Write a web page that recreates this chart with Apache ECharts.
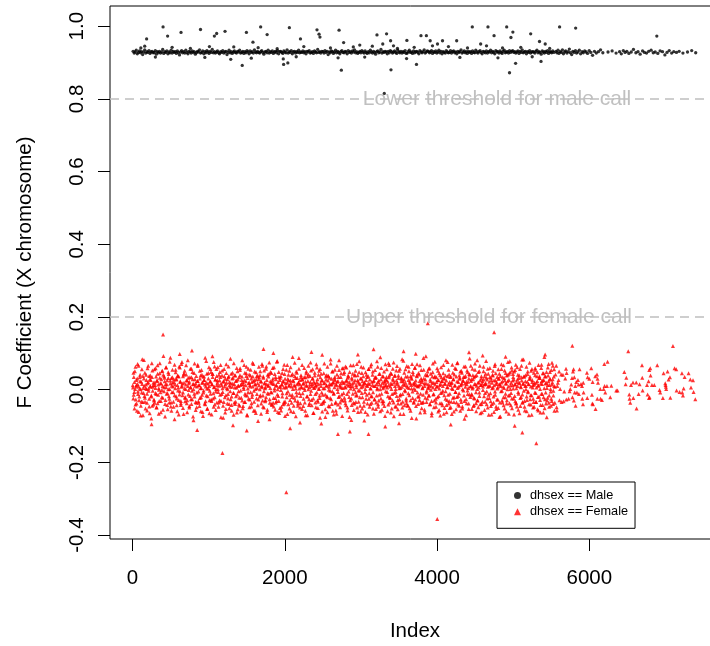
<!DOCTYPE html>
<html><head><meta charset="utf-8">
<script src="https://cdn.jsdelivr.net/npm/echarts@6/dist/echarts.min.js"></script>
<style>html,body{margin:0;padding:0;background:#fff}#c{width:710px;height:646px}</style>
</head><body><div id="c"></div><script>
const FONT = 'Liberation Sans, Arial, Helvetica, sans-serif';
const xTicks = [0, 2000, 4000, 6000];
const yTicks = [-0.4, -0.2, 0, 0.2, 0.4, 0.6, 0.8, 1.0];
const thresholds = [0.8, 0.2];
const thresholdLabels = ['Lower threshold for male call', 'Upper threshold for female call'];
const thresholdLabelIdx = [4788, 4683];
const legendNames = ['dhsex == Male', 'dhsex == Female'];

const maleIdx = [
8,22,35,49,63,77,91,105,119,133,146,160,174,188,202,216,230,243,257,271,
285,299,312,326,340,354,368,382,396,410,423,437,451,465,479,493,507,520,534,548,
562,576,589,603,617,631,645,659,673,687,700,714,728,742,756,770,784,797,811,825,
839,853,866,880,894,908,922,936,950,964,977,991,1005,1019,1033,1047,1061,1074,1088,1102,
1116,1130,1143,1157,1171,1185,1199,1213,1227,1241,1254,1268,1282,1296,1310,1324,1338,1351,1365,1379,
1393,1407,1420,1434,1448,1462,1476,1490,1504,1518,1531,1545,1559,1573,1587,1601,1615,1628,1642,1656,
1670,1684,1697,1711,1725,1739,1753,1767,1781,1795,1808,1822,1836,1850,1864,1878,1892,1905,1919,1933,
1947,1961,1974,1988,2002,2016,2030,2044,2058,2072,2085,2099,2113,2127,2141,2155,2169,2182,2196,2210,
2224,2238,2251,2265,2279,2293,2307,2321,2335,2349,2362,2376,2390,2404,2418,2432,2446,2459,2473,2487,
2501,2515,2528,2542,2556,2570,2584,2598,2612,2626,2639,2653,2667,2681,2695,2709,2723,2736,2750,2764,
2778,2792,2805,2819,2833,2847,2861,2875,2889,2903,2916,2930,2944,2958,2972,2986,3000,3013,3027,3041,
3055,3069,3082,3096,3110,3124,3138,3152,3166,3180,3193,3207,3221,3235,3249,3263,3277,3290,3304,3318,
3332,3346,3359,3373,3387,3401,3415,3429,3443,3457,3470,3484,3498,3512,3526,3540,3554,3567,3581,3595,
3609,3623,3636,3650,3664,3678,3692,3706,3720,3734,3747,3761,3775,3789,3803,3817,3831,3844,3858,3872,
3886,3900,3913,3927,3941,3955,3969,3983,3997,4011,4024,4038,4052,4066,4080,4094,4108,4121,4135,4149,
4163,4177,4190,4204,4218,4232,4246,4260,4274,4288,4301,4315,4329,4343,4357,4371,4385,4398,4412,4426,
4440,4454,4467,4481,4495,4509,4523,4537,4551,4565,4578,4592,4606,4620,4634,4648,4662,4675,4689,4703,
4717,4731,4744,4758,4772,4786,4800,4814,4828,4842,4855,4869,4883,4897,4911,4925,4939,4952,4966,4980,
4994,5008,5021,5035,5049,5063,5077,5091,5105,5119,5132,5146,5160,5174,5188,5202,5216,5229,5243,5257,
5271,5285,5298,5312,5326,5340,5354,5368,5382,5396,5409,5423,5437,5451,5465,5479,5493,5506,5520,5534];
const maleF = [
.931,.926,.929,.934,.924,.928,.932,.927,.930,.922,.929,.935,.926,.930,.928,.933,.925,.929,.931,.927,
.928,.933,.923,.930,.927,.931,.926,.929,.936,.925,.930,.928,.932,.924,.929,.927,.934,.926,.931,.928,
.930,.925,.932,.928,.921,.929,.933,.927,.930,.926,.934,.928,.924,.931,.929,.926,.932,.928,.930,.923,
.927,.931,.929,.935,.926,.928,.932,.924,.930,.927,.933,.929,.925,.931,.928,.936,.927,.930,.926,.929,
.932,.927,.924,.930,.928,.933,.926,.929,.931,.922,.928,.934,.927,.930,.925,.929,.932,.928,.926,.931,
.929,.934,.926,.928,.931,.925,.930,.927,.933,.929,.924,.932,.928,.930,.926,.935,.929,.927,.931,.928,
.926,.930,.933,.928,.923,.929,.931,.927,.934,.926,.930,.928,.932,.925,.929,.931,.927,.933,.924,.930,
.931,.928,.925,.932,.929,.927,.935,.926,.930,.928,.933,.924,.929,.931,.926,.930,.928,.934,.927,.929,
.928,.932,.927,.930,.924,.931,.929,.933,.926,.928,.930,.925,.932,.929,.927,.936,.928,.930,.926,.931,
.930,.926,.933,.928,.931,.922,.929,.927,.932,.930,.925,.929,.934,.927,.931,.928,.924,.930,.933,.928,
.927,.931,.929,.924,.933,.928,.930,.926,.932,.929,.935,.927,.930,.925,.928,.931,.927,.933,.929,.926,
.932,.928,.925,.930,.927,.934,.929,.926,.931,.928,.923,.930,.932,.927,.929,.936,.926,.930,.928,.931,
.929,.924,.931,.927,.933,.930,.926,.929,.932,.928,.925,.934,.929,.927,.931,.926,.930,.928,.933,.925,
.926,.930,.934,.928,.929,.925,.932,.927,.930,.931,.928,.924,.933,.929,.927,.930,.935,.926,.929,.932,
.931,.927,.929,.933,.925,.930,.928,.932,.926,.929,.934,.927,.931,.924,.930,.928,.926,.933,.929,.927,
.928,.933,.926,.930,.932,.927,.929,.924,.931,.928,.930,.935,.926,.929,.932,.927,.930,.925,.931,.928,
.930,.925,.932,.928,.927,.934,.929,.926,.930,.933,.928,.924,.931,.929,.927,.932,.926,.930,.929,.934,
.927,.931,.928,.924,.933,.929,.930,.926,.932,.928,.925,.931,.934,.927,.929,.930,.926,.933,.928,.931,
.933,.928,.930,.926,.929,.932,.925,.931,.928,.935,.927,.929,.931,.924,.930,.928,.933,.926,.929,.930,
.929,.926,.931,.934,.927,.930,.928,.923,.932,.929,.926,.931,.928,.933,.925,.930,.929,.927,.932,.928];

const maleSparseIdx = [5562,5575,5589,5601,5618,5633,5647,5660,5676,5690,5707,5722,5738,5751,5769,5784,5800,5818,5833,5851,5869,5886,5905,5921,5940,5958,5977,5999,6020,6043,6068,6092,6120,6148,6178,
6246,6300,6352,6398,6421,6447,6470,6493,6520,6551,6580,6612,6640,6668,6700,6725,6752,6780,6812,6840,6866,6900,6930,6962,6993,7021,7050,7082,7110,7145,7180,7230,7290,7345,7398];
const maleSparseF = [.931,.927,.934,.925,.930,.928,.935,.924,.929,.932,.926,.930,.937,.927,.922,.931,.928,.933,.926,.929,.934,.924,.930,.927,.932,.929,.925,.933,.928,.920,.931,.926,.930,.935,.927,
.929,.932,.926,.930,.924,.933,.928,.931,.925,.929,.936,.927,.930,.923,.932,.928,.926,.931,.934,.927,.929,.925,.932,.930,.921,.928,.933,.926,.930,.928,.931,.926,.929,.933,.927];

const maleOutIdx = [109,185,401,461,637,893,1075,1105,1215,1496,1582,1683,1768,2060,2206,2423,2450,2462,2713,2773,2985,3211,3287,3337,3390,3428,3604,3789,3860,3910,3940,4006,4072,4258,4463,4573,4669,4749,4860,4915,4971,4996,5230,5346,5421,5610,5821,6887,
1290,1441,1980,1985,2040,2743,3395,3730,4952,5032,5366,3307,
160,520,760,1010,1330,1650,1900,2250,2600,2900,3150,3480,3700,4150,4400,4650,5100,5480,300,950,1560,2150,2700,3050,3600,4300,4800,5250];
const maleOutF = [.940,.965,.998,.973,.983,.991,.973,.980,.986,.983,.956,.998,.977,.996,.965,.990,.978,.970,.989,.955,.948,.976,.951,.979,.960,.946,.961,.974,.974,.960,.946,.951,.960,.960,.998,.951,.998,.974,.940,.998,.969,.984,.979,.958,.951,.998,.995,.973,
.909,.892,.910,.895,.899,.879,.880,.895,.872,.898,.903,.815,
.945,.942,.939,.944,.943,.941,.938,.944,.940,.943,.945,.939,.942,.944,.940,.946,.942,.939,.915,.914,.912,.916,.913,.915,.911,.914,.913,.916];

const femaleIdx = [
3,10,17,23,31,38,45,51,58,66,72,79,86,94,100,107,114,120,128,135,
142,149,156,162,170,177,184,190,197,205,211,218,225,233,239,246,253,259,267,274,
281,288,295,301,309,316,323,329,336,344,350,357,364,372,378,385,392,398,406,413,
420,427,434,440,448,455,462,468,475,483,489,496,503,511,517,524,531,537,545,552,
559,566,573,579,587,594,601,607,614,622,628,635,642,650,656,663,670,676,684,691,
698,705,712,718,726,733,740,746,753,761,767,774,781,789,795,802,809,815,823,830,
837,844,851,857,865,872,879,885,892,900,906,913,920,928,934,941,948,954,962,969,
976,983,990,996,1004,1011,1018,1024,1031,1039,1045,1052,1059,1067,1073,1080,1087,1093,1101,1108,
1115,1122,1129,1135,1143,1150,1157,1163,1170,1178,1184,1191,1198,1206,1212,1219,1226,1232,1240,1247,
1254,1261,1268,1274,1282,1289,1296,1302,1309,1317,1323,1330,1337,1345,1351,1358,1365,1371,1379,1386,
1393,1400,1407,1413,1421,1428,1435,1441,1448,1456,1462,1469,1476,1484,1490,1497,1504,1510,1518,1525,
1532,1539,1546,1552,1560,1567,1574,1580,1587,1595,1601,1608,1615,1623,1629,1636,1643,1649,1657,1664,
1671,1678,1685,1691,1699,1706,1713,1719,1726,1734,1740,1747,1754,1762,1768,1775,1782,1788,1796,1803,
1810,1817,1824,1830,1838,1845,1852,1858,1865,1873,1879,1886,1893,1901,1907,1914,1921,1927,1935,1942,
1949,1956,1963,1969,1977,1984,1991,1997,2004,2012,2018,2025,2032,2040,2046,2053,2060,2066,2074,2081,
2088,2095,2102,2108,2116,2123,2130,2136,2143,2151,2157,2164,2171,2179,2185,2192,2199,2205,2213,2220,
2227,2234,2241,2247,2255,2262,2269,2275,2282,2290,2296,2303,2310,2318,2324,2331,2338,2344,2352,2359,
2366,2373,2380,2386,2394,2401,2408,2414,2421,2429,2435,2442,2449,2457,2463,2470,2477,2483,2491,2498,
2505,2512,2519,2525,2533,2540,2547,2553,2560,2568,2574,2581,2588,2596,2602,2609,2616,2622,2630,2637,
2644,2651,2658,2664,2672,2679,2686,2692,2699,2707,2713,2720,2727,2735,2741,2748,2755,2761,2769,2776,
2783,2790,2797,2803,2811,2818,2825,2831,2838,2846,2852,2859,2866,2874,2880,2887,2894,2900,2908,2915,
2922,2929,2936,2942,2950,2957,2964,2970,2977,2985,2991,2998,3005,3013,3019,3026,3033,3039,3047,3054,
3061,3068,3075,3081,3089,3096,3103,3109,3116,3124,3130,3137,3144,3152,3158,3165,3172,3178,3186,3193,
3200,3207,3214,3220,3228,3235,3242,3248,3255,3263,3269,3276,3283,3291,3297,3304,3311,3317,3325,3332,
3339,3346,3353,3359,3367,3374,3381,3387,3394,3402,3408,3415,3422,3430,3436,3443,3450,3456,3464,3471,
3478,3485,3492,3498,3506,3513,3520,3526,3533,3541,3547,3554,3561,3569,3575,3582,3589,3595,3603,3610,
3617,3624,3631,3637,3645,3652,3659,3665,3672,3680,3686,3693,3700,3708,3714,3721,3728,3734,3742,3749,
3756,3763,3770,3776,3784,3791,3798,3804,3811,3819,3825,3832,3839,3847,3853,3860,3867,3873,3881,3888,
3895,3902,3909,3915,3923,3930,3937,3943,3950,3958,3964,3971,3978,3986,3992,3999,4006,4012,4020,4027,
4034,4041,4048,4054,4062,4069,4076,4082,4089,4097,4103,4110,4117,4125,4131,4138,4145,4151,4159,4166,
4173,4180,4187,4193,4201,4208,4215,4221,4228,4236,4242,4249,4256,4264,4270,4277,4284,4290,4298,4305,
4312,4319,4326,4332,4340,4347,4354,4360,4367,4375,4381,4388,4395,4403,4409,4416,4423,4429,4437,4444,
4451,4458,4465,4471,4479,4486,4493,4499,4506,4514,4520,4527,4534,4542,4548,4555,4562,4568,4576,4583,
4590,4597,4604,4610,4618,4625,4632,4638,4645,4653,4659,4666,4673,4681,4687,4694,4701,4707,4715,4722,
4729,4736,4743,4749,4757,4764,4771,4777,4784,4792,4798,4805,4812,4820,4826,4833,4840,4846,4854,4861,
4868,4875,4882,4888,4896,4903,4910,4916,4923,4931,4937,4944,4951,4959,4965,4972,4979,4985,4993,5000,
5007,5014,5021,5027,5035,5042,5049,5055,5062,5070,5076,5083,5090,5098,5104,5111,5118,5124,5132,5139,
5146,5153,5160,5166,5174,5181,5188,5194,5201,5209,5215,5222,5229,5237,5243,5250,5257,5263,5271,5278,
5285,5292,5299,5305,5313,5320,5327,5333,5340,5348,5354,5361,5368,5376,5382,5389,5396,5402,5410,5417,
5424,5431,5438,5444,5452,5459,5466,5472,5479,5487,5493,5500,5507,5515,5521,5528,5535,5541,5549,5556];
const femaleF = [
.012,-.024,.035,-.006,.051,-.041,.009,.027,-.058,.016,-.012,.066,-.029,.003,.041,-.071,.022,-.008,.084,-.034,
.005,.031,-.017,.047,-.052,.014,.002,-.036,.059,.021,-.003,.038,-.065,.011,.027,-.019,.073,-.044,.008,.019,
-.027,.056,.013,-.009,.036,-.048,.024,.067,-.014,.004,-.031,.045,.018,-.062,.029,-.001,.052,-.022,.093,.007,
.033,-.039,.015,.061,-.011,.026,-.054,.001,.043,-.025,.077,.017,-.046,.032,-.007,.055,.009,-.033,.021,-.081,
.014,.048,-.018,.028,-.059,.039,.006,-.028,.064,-.004,.023,-.042,.071,.011,-.015,.037,-.067,.019,.052,-.023,
.002,.042,-.037,.025,.081,-.013,.018,-.049,.034,.007,-.026,.058,-.003,.029,-.074,.016,.046,-.019,.011,-.056,
.038,-.008,.024,.069,-.032,.013,-.045,.031,.004,-.021,.054,.019,-.061,.036,-.002,.027,-.038,.088,.009,-.016,
.044,-.052,.017,.003,.062,-.029,.022,-.011,.049,-.068,.014,.035,-.024,.076,.008,-.041,.028,-.005,.057,-.035,
.019,.001,-.047,.041,.026,-.014,.068,-.031,.012,.053,-.006,-.077,.024,.037,-.021,.015,-.053,.046,.005,.029,
-.012,.064,-.039,.021,.008,-.026,.044,-.058,.031,.017,-.009,.073,-.035,.006,.039,-.018,.025,-.063,.051,.011,
-.004,.034,-.044,.059,.013,-.022,.027,.081,-.051,.016,.002,-.034,.047,-.015,.023,.063,-.069,.032,-.007,.018,
.042,-.027,.009,.055,-.046,.021,-.013,.036,.071,-.003,.026,-.057,.014,.048,-.024,.005,.039,-.086,.029,.012,
-.019,.051,.024,-.038,.007,.066,-.016,.033,-.049,.019,.004,-.028,.058,.015,-.061,.041,.010,-.011,.075,-.036,
.023,-.006,.046,-.042,.017,.031,-.023,.062,-.002,-.055,.035,.013,-.031,.079,.001,-.017,.049,-.064,.027,.008,
.037,-.047,.014,-.010,.057,.022,-.033,.043,-.072,.018,.006,-.021,.068,.030,-.040,.011,.052,-.014,.025,-.059,
.009,-.020,.043,.026,-.061,.012,.074,-.030,.003,.050,-.016,.032,-.044,.020,.087,-.009,.015,-.037,.040,.006,
-.053,.028,.017,-.025,.060,-.001,.034,-.070,.045,.010,-.019,.024,.066,-.042,.007,.038,-.012,.053,-.028,.016,
.031,-.064,.022,.005,.047,-.035,.013,.070,-.008,.029,-.050,.041,.002,-.023,.057,.018,-.039,.026,.096,-.014,
.004,.045,-.031,.019,-.075,.036,.011,-.017,.063,.025,-.045,.008,.033,-.003,.072,-.026,.015,.050,-.058,.021,
-.010,.030,.055,-.037,.016,-.066,.042,.002,.024,-.020,.081,.012,-.048,.035,.006,-.013,.059,-.030,.019,.044,
-.022,.008,.064,-.043,.027,.014,-.057,.039,-.005,.021,.049,-.029,.010,-.083,.033,.017,-.011,.067,.001,-.038,
.026,.052,-.016,.007,-.049,.040,.022,-.033,.078,-.002,.015,-.060,.031,.046,-.021,.009,.061,-.044,.020,-.007,
.048,-.025,.012,.035,-.068,.018,.057,-.010,.028,-.039,.003,.070,-.018,.041,-.052,.023,.010,-.027,.054,.032,
-.035,.016,.001,.063,-.047,.025,-.014,.044,.089,-.024,.011,-.055,.037,.004,-.032,.050,.019,-.072,.029,.013,
.056,-.006,.022,-.041,.034,.068,-.020,.009,-.063,.043,.016,-.029,.026,.075,-.009,.038,-.046,.002,.053,-.017,
.020,-.054,.039,.011,-.026,.058,.005,-.038,.030,.084,-.012,.024,-.067,.047,.013,-.004,.036,-.030,.065,.007,
-.043,.027,.051,-.015,.018,-.058,.033,.003,.071,-.023,.042,-.036,.014,.060,-.001,.025,-.079,.039,.010,-.019,
.046,.012,-.028,.067,-.011,.031,-.051,.021,.006,-.034,.055,.017,-.062,.028,.092,-.008,.040,-.024,.015,.004,
-.016,.059,-.040,.023,.011,-.071,.036,.048,-.013,.019,-.030,.077,.002,-.047,.034,.009,-.021,.052,.026,-.056,
.013,.040,-.009,.062,-.037,.024,-.003,.045,-.066,.030,.016,-.025,.081,-.042,.007,.037,-.014,.055,-.031,.021,
.035,-.048,.018,.004,.069,-.022,.029,-.060,.042,.012,-.006,.057,-.035,.023,.074,-.017,.008,-.044,.033,.050,
-.027,.014,.047,-.052,.026,-.002,.064,-.031,.017,.038,-.070,.022,.053,-.012,.005,-.038,.043,.086,-.020,.010,
.029,-.015,.058,.007,-.045,.034,-.024,.072,.015,-.059,.040,.002,-.029,.049,.020,-.008,.066,-.040,.013,.031,
-.062,.024,.009,.051,-.018,.037,-.033,.016,.079,-.005,.028,-.049,.044,.011,-.023,.060,-.010,.033,-.068,.019,
.041,.006,-.036,.026,.065,-.014,.045,-.053,.020,.003,-.027,.056,.031,-.075,.014,.038,-.004,.070,-.030,.023,
.008,-.043,.032,.053,-.021,.017,-.060,.039,.001,.076,-.016,.027,-.037,.048,.012,-.009,.061,-.051,.025,.035,
-.024,.050,.015,-.032,.069,.004,-.046,.028,.041,-.011,.020,-.065,.057,.009,-.020,.034,.083,-.036,.018,-.003,
.036,-.057,.023,.010,.063,-.028,.043,-.007,.016,-.040,.074,.030,-.015,.052,-.069,.021,.006,-.025,.047,.014,
-.008,.055,-.034,.019,.037,-.054,.011,.068,-.019,.032,.002,-.042,.060,.024,-.012,.045,-.063,.027,.090,-.026,
.017,-.038,.049,.005,-.022,.039,.071,-.047,.013,.028,-.005,.054,-.031,.020,.066,-.016,.036,-.058,.008,.042];

const femaleIdxB = [
6,15,25,34,43,52,62,71,80,89,99,108,117,126,136,145,154,163,173,182,
191,200,210,219,228,237,247,256,265,274,284,293,302,311,321,330,339,348,358,367,
376,385,395,404,413,422,432,441,450,459,469,478,487,496,506,515,524,533,543,552,
561,570,580,589,598,607,617,626,635,644,654,663,672,681,691,700,709,718,728,737,
746,755,765,774,783,792,802,811,820,829,839,848,857,866,876,885,894,903,913,922,
931,940,950,959,968,977,987,996,1005,1014,1024,1033,1042,1051,1061,1070,1079,1088,1098,1107,
1116,1125,1135,1144,1153,1162,1172,1181,1190,1199,1209,1218,1227,1236,1246,1255,1264,1273,1283,1292,
1301,1310,1320,1329,1338,1347,1357,1366,1375,1384,1394,1403,1412,1421,1431,1440,1449,1458,1468,1477,
1486,1495,1505,1514,1523,1532,1542,1551,1560,1569,1579,1588,1597,1606,1616,1625,1634,1643,1653,1662,
1671,1680,1690,1699,1708,1717,1727,1736,1745,1754,1764,1773,1782,1791,1801,1810,1819,1828,1838,1847,
1856,1865,1875,1884,1893,1902,1912,1921,1930,1939,1949,1958,1967,1976,1986,1995,2004,2013,2023,2032,
2041,2050,2060,2069,2078,2087,2097,2106,2115,2124,2134,2143,2152,2161,2171,2180,2189,2198,2208,2217,
2226,2235,2245,2254,2263,2272,2282,2291,2300,2309,2319,2328,2337,2346,2356,2365,2374,2383,2393,2402,
2411,2420,2430,2439,2448,2457,2467,2476,2485,2494,2504,2513,2522,2531,2541,2550,2559,2568,2578,2587,
2596,2605,2615,2624,2633,2642,2652,2661,2670,2679,2689,2698,2707,2716,2726,2735,2744,2753,2763,2772,
2781,2790,2800,2809,2818,2827,2837,2846,2855,2864,2874,2883,2892,2901,2911,2920,2929,2938,2948,2957,
2966,2975,2985,2994,3003,3012,3022,3031,3040,3049,3059,3068,3077,3086,3096,3105,3114,3123,3133,3142,
3151,3160,3170,3179,3188,3197,3207,3216,3225,3234,3244,3253,3262,3271,3281,3290,3299,3308,3318,3327,
3336,3345,3355,3364,3373,3382,3392,3401,3410,3419,3429,3438,3447,3456,3466,3475,3484,3493,3503,3512,
3521,3530,3540,3549,3558,3567,3577,3586,3595,3604,3614,3623,3632,3641,3651,3660,3669,3678,3688,3697,
3706,3715,3725,3734,3743,3752,3762,3771,3780,3789,3799,3808,3817,3826,3836,3845,3854,3863,3873,3882,
3891,3900,3910,3919,3928,3937,3947,3956,3965,3974,3984,3993,4002,4011,4021,4030,4039,4048,4058,4067,
4076,4085,4095,4104,4113,4122,4132,4141,4150,4159,4169,4178,4187,4196,4206,4215,4224,4233,4243,4252,
4261,4270,4280,4289,4298,4307,4317,4326,4335,4344,4354,4363,4372,4381,4391,4400,4409,4418,4428,4437,
4446,4455,4465,4474,4483,4492,4502,4511,4520,4529,4539,4548,4557,4566,4576,4585,4594,4603,4613,4622,
4631,4640,4650,4659,4668,4677,4687,4696,4705,4714,4724,4733,4742,4751,4761,4770,4779,4788,4798,4807,
4816,4825,4835,4844,4853,4862,4872,4881,4890,4899,4909,4918,4927,4936,4946,4955,4964,4973,4983,4992,
5001,5010,5020,5029,5038,5047,5057,5066,5075,5084,5094,5103,5112,5121,5131,5140,5149,5158,5168,5177,
5186,5195,5205,5214,5223,5232,5242,5251,5260,5269,5279,5288,5297,5306,5316,5325,5334,5343,5353,5362,
5371,5380,5390,5399,5408,5417,5427,5436,5445,5454,5464,5473,5482,5491,5501,5510,5519,5528,5538,5547];
const femaleFB = [
.006,-.014,.021,.002,-.027,.013,.031,-.005,.009,-.019,.024,.001,-.033,.016,.038,-.009,.011,-.022,.004,.027,
-.011,.018,.003,-.025,.029,.008,-.016,.035,-.003,.012,-.030,.020,.005,-.012,.026,-.037,.014,.000,.033,-.007,
.017,-.021,.010,.041,-.004,.023,-.028,.007,.015,-.010,.032,-.018,.002,.025,-.035,.011,.019,-.006,.028,-.015,
.004,.030,-.024,.013,-.002,.036,-.013,.021,-.031,.008,.017,-.008,.042,.003,-.020,.014,.026,-.029,.010,-.001,
.022,-.017,.006,.034,-.026,.015,.001,-.011,.029,.018,-.036,.009,.024,-.005,.012,-.023,.039,.005,-.014,.020,
-.008,.027,.014,-.032,.019,.003,-.018,.031,.010,-.003,.023,-.027,.016,.044,-.010,.007,-.021,.028,.002,.013,
.025,-.006,.011,-.029,.035,.017,-.012,.004,.022,-.034,.009,.030,-.015,.019,.001,-.024,.037,.012,-.004,.018,
-.019,.008,.033,-.009,.015,-.039,.024,.006,-.013,.028,.011,-.022,.040,-.002,.016,-.030,.021,.007,.026,-.011,
.012,.038,-.016,.003,-.025,.020,.013,-.007,.031,-.020,.009,.024,-.033,.015,.002,.029,-.012,.018,-.027,.034,
.001,-.015,.022,.010,-.030,.036,-.004,.017,.007,-.021,.027,-.010,.013,.043,-.026,.005,.019,-.008,.025,-.036,
.016,.004,-.023,.029,.011,-.013,.021,-.031,.008,.033,-.001,.014,-.019,.024,.006,-.038,.030,.009,-.010,.020,
-.005,.026,.012,-.028,.018,.040,-.014,.002,.023,-.022,.011,.032,-.007,.015,-.032,.019,.003,.027,-.017,.008,
.029,-.010,.017,.005,-.035,.022,.013,-.018,.036,.001,-.026,.014,.021,-.003,.010,.031,-.024,.006,.018,-.012,
.009,.021,-.029,.015,.003,-.016,.034,.010,-.008,.025,-.037,.018,.004,-.013,.028,.012,-.021,.039,.000,.016,
-.023,.014,.030,-.004,.019,-.011,.007,.026,-.034,.012,.022,-.006,.035,-.018,.008,.017,-.027,.023,.005,-.009,
.019,-.030,.006,.024,-.012,.033,.011,-.020,.015,.003,-.024,.028,.009,-.036,.020,.041,-.007,.013,-.015,.026,
-.002,.017,-.021,.031,.007,-.009,.023,.014,-.033,.018,.002,.027,-.014,.010,.037,-.025,.016,.004,-.018,.022,
.013,-.007,.025,-.026,.010,.035,-.016,.005,.021,-.030,.014,.001,.029,-.011,.019,-.038,.008,.024,.011,-.004,
.027,.006,-.018,.012,.039,-.023,.017,.002,-.012,.030,-.035,.020,.010,-.006,.025,.015,-.028,.032,.004,-.016,
-.013,.023,.008,-.033,.016,.028,-.001,.019,-.024,.011,.036,-.010,.005,.022,-.029,.013,.030,-.005,.017,.003,
.020,-.027,.013,.037,-.008,.009,-.019,.024,.015,-.036,.027,.004,-.014,.031,.010,-.022,.018,-.003,.040,.007,
-.016,.011,.028,.000,-.031,.019,.006,-.012,.034,.014,-.025,.021,.009,.027,-.017,.003,-.037,.016,.023,-.008,
.010,.032,-.015,.018,-.004,.025,-.028,.007,.016,.042,-.011,.013,-.033,.020,.002,.029,-.021,.011,-.006,.036,
-.020,.005,.021,-.010,.030,.012,-.034,.018,.001,.024,-.016,.035,.008,-.026,.015,-.002,.022,.031,-.013,.009,
.024,-.012,.003,.029,-.022,.016,.038,-.007,.011,-.030,.020,.006,-.017,.026,.013,-.039,.017,-.001,.028,.014,
-.009,.018,.033,-.024,.008,-.014,.022,.011,-.032,.027,.004,.039,-.019,.012,-.005,.025,.016,-.027,.007,.030,
.015,-.035,.010,.020,-.003,.034,-.021,.005,.026,-.011,.017,-.029,.023,.009,.044,-.015,.002,.019,-.024,.012,
.003,.028,-.017,.014,-.038,.021,.010,-.006,.032,.018,-.023,.007,.025,-.013,.016,.036,-.031,.011,.001,-.019,
.022,-.004,.015,.030,-.026,.009,-.015,.027,.013,-.034,.019,.040,-.009,.006,.024,-.020,.012,.033,-.028,.017,
-.011,.016,.026,-.021,.004,.037,-.008,.019,-.030,.013,.023,-.016,.031,.002,-.025,.014,.029,-.003,.010,-.036];

const femaleIdxC = [
12,26,39,53,67,81,95,109,123,137,150,164,178,192,206,220,234,247,261,275,
289,303,316,330,344,358,372,386,400,414,427,441,455,469,483,497,511,524,538,552,
566,580,593,607,621,635,649,663,677,691,704,718,732,746,760,774,788,801,815,829,
843,857,870,884,898,912,926,940,954,968,981,995,1009,1023,1037,1051,1065,1078,1092,1106,
1120,1134,1147,1161,1175,1189,1203,1217,1231,1245,1258,1272,1286,1300,1314,1328,1342,1355,1369,1383,
1397,1411,1424,1438,1452,1466,1480,1494,1508,1522,1535,1549,1563,1577,1591,1605,1619,1632,1646,1660,
1674,1688,1701,1715,1729,1743,1757,1771,1785,1799,1812,1826,1840,1854,1868,1882,1896,1909,1923,1937,
1951,1965,1978,1992,2006,2020,2034,2048,2062,2076,2089,2103,2117,2131,2145,2159,2173,2186,2200,2214,
2228,2242,2255,2269,2283,2297,2311,2325,2339,2353,2366,2380,2394,2408,2422,2436,2450,2463,2477,2491,
2505,2519,2532,2546,2560,2574,2588,2602,2616,2630,2643,2657,2671,2685,2699,2713,2727,2740,2754,2768,
2782,2796,2809,2823,2837,2851,2865,2879,2893,2907,2920,2934,2948,2962,2976,2990,3004,3017,3031,3045,
3059,3073,3086,3100,3114,3128,3142,3156,3170,3184,3197,3211,3225,3239,3253,3267,3281,3294,3308,3322,
3336,3350,3363,3377,3391,3405,3419,3433,3447,3461,3474,3488,3502,3516,3530,3544,3558,3571,3585,3599,
3613,3627,3640,3654,3668,3682,3696,3710,3724,3738,3751,3765,3779,3793,3807,3821,3835,3848,3862,3876,
3890,3904,3917,3931,3945,3959,3973,3987,4001,4015,4028,4042,4056,4070,4084,4098,4112,4125,4139,4153,
4167,4181,4194,4208,4222,4236,4250,4264,4278,4292,4305,4319,4333,4347,4361,4375,4389,4402,4416,4430,
4444,4458,4471,4485,4499,4513,4527,4541,4555,4569,4582,4596,4610,4624,4638,4652,4666,4679,4693,4707,
4721,4735,4748,4762,4776,4790,4804,4818,4832,4846,4859,4873,4887,4901,4915,4929,4943,4956,4970,4984,
4998,5012,5025,5039,5053,5067,5081,5095,5109,5123,5136,5150,5164,5178,5192,5206,5220,5233,5247,5261,
5275,5289,5302,5316,5330,5344,5358,5372,5386,5400,5413,5427,5441,5455,5469,5483,5497,5510,5524,5538];
const femaleFC = [
.047,-.052,.063,-.038,.071,-.061,.035,-.044,.056,-.070,.082,-.033,.041,-.057,.066,-.046,.039,-.079,.053,-.041,
-.036,.059,-.049,.044,-.066,.073,-.031,.051,-.055,.037,-.074,.062,-.042,.048,-.035,.088,-.058,.034,-.047,.069,
.055,-.043,.038,-.068,.061,-.037,.076,-.050,.045,-.032,.067,-.062,.033,-.045,.058,-.039,.049,-.084,.072,-.034,
-.048,.065,-.036,.052,-.059,.041,-.072,.036,-.040,.079,-.053,.046,-.065,.057,-.031,.043,-.047,.064,-.056,.038,
.062,-.035,.049,-.076,.039,-.044,.057,-.063,.070,-.038,.034,-.051,.085,-.042,.047,-.069,.040,-.033,.060,-.054,
-.041,.054,-.060,.036,-.045,.068,-.034,.045,-.071,.058,-.048,.039,-.037,.074,-.058,.050,-.064,.037,-.043,.063,
.040,-.066,.071,-.047,.053,-.032,.064,-.055,.036,-.081,.049,-.039,.060,-.046,.043,-.035,.077,-.061,.035,-.050,
-.057,.046,-.040,.069,-.033,.055,-.067,.041,-.052,.062,-.036,.090,-.044,.038,-.073,.047,-.038,.058,-.049,.035,
.068,-.045,.034,-.058,.050,-.070,.042,-.037,.075,-.043,.056,-.064,.039,-.048,.061,-.033,.052,-.077,.044,-.060,
-.033,.072,-.054,.040,-.062,.037,-.046,.083,-.039,.051,-.068,.035,-.057,.066,-.041,.054,-.035,.045,-.072,.059,
.049,-.037,.061,-.049,.036,-.075,.067,-.042,.044,-.056,.039,-.034,.071,-.061,.048,-.044,.063,-.052,.037,-.085,
-.061,.041,-.038,.057,-.047,.064,-.036,.050,-.066,.034,-.053,.078,-.040,.043,-.059,.060,-.032,.036,-.045,.070,
.035,-.059,.073,-.035,.046,-.052,.058,-.073,.040,-.046,.065,-.038,.052,-.067,.033,-.049,.080,-.043,.056,-.037,
-.044,.063,-.051,.038,-.078,.049,-.033,.061,-.045,.070,-.039,.042,-.063,.054,-.036,.087,-.055,.041,-.034,.050,
.058,-.040,.044,-.064,.072,-.048,.037,-.035,.059,-.060,.045,-.071,.034,-.043,.068,-.050,.039,-.062,.076,-.038,
-.050,.036,-.067,.047,-.034,.060,-.054,.073,-.041,.039,-.058,.052,-.046,.035,-.080,.064,-.037,.048,-.053,.041,
.066,-.053,.040,-.042,.055,-.037,.081,-.048,.051,-.065,.037,-.033,.063,-.056,.044,-.040,.058,-.069,.035,-.045,
-.039,.052,-.061,.070,-.046,.035,-.050,.044,-.074,.057,-.035,.067,-.052,.046,-.038,.041,-.066,.078,-.043,.053,
.043,-.068,.054,-.036,.062,-.055,.039,-.045,.066,-.034,.083,-.047,.040,-.059,.050,-.070,.036,-.041,.057,-.049,
-.047,.060,-.034,.048,-.057,.037,-.063,.069,-.042,.045,-.051,.036,-.076,.061,-.036,.049,-.044,.074,-.039,.056];

const femaleSparseIdx = [5566,5571,5575,5580,5587,5596,5604,5609,5617,5631,5636,5654,5662,5671,5684,5694,5698,5702,5728,5741,5750,5763,5773,5777,5779,5786,5793,5797,5803,5808,5816,5820,5829,5838,5851,5859,5863,5872,5891,5904,5908,5917,5921,5925,5969,5973,5978,6000,6026,6035,6040,6044,6048,6078,6082,6101,6105,6109,6114,6144,6148,6166,6188,6197,6201,6210,6232,6240,6275,6289,6354,6371,
6460,6477,6486,6512,6525,6529,6538,6548,6574,6578,6617,6621,6648,6660,6692,6696,6701,6758,6766,6779,6784,6788,6792,6801,6805,6823,6854,6893,6923,6932,6967,6976,6998,7002,7006,7010,7028,7041,7059,7064,7099,7120,7142,7146,7186,7217,7221,7230,7239,7252,7304,7327,7336,7362,7370,7393];
const femaleSparseF = [.066,-.048,-.057,.010,.019,.027,.050,-.029,.002,.042,-.034,.041,-.032,-.005,.031,.058,-.027,.046,-.025,-.004,.002,.014,.032,.121,-.021,.050,.056,-.030,.034,-.008,.010,-.044,.021,-.008,.027,.014,-.012,.056,.016,.010,-.025,-.040,.019,-.008,.047,-.023,.034,.030,.059,-.014,-.038,.021,-.040,.037,-.053,.042,-.025,.030,.019,.002,-.025,-.028,.002,.071,.010,-.008,.010,.077,-.021,.011,-.002,-.002,
.049,.015,.033,.106,-.013,-.025,-.036,.013,.020,-.023,.020,-.052,-.012,.015,.067,.033,-.002,.013,-.013,.023,-.023,.054,-.021,.059,.039,.013,.013,.067,-.001,-.008,-.023,.045,.018,.013,.008,.002,.050,.028,.034,-.022,.120,.059,.056,-.002,-.006,.045,-.008,-.016,.003,.035,.045,.028,.006,.026,-.006,-.026];

const femaleOutIdx = [401,3879,4750,3166,849,1500,2070,2698,3100,1181,2020,4003,5304,780,2350,3560,4420,5120,2855,1720,250,620,1320,1850,2480,2960,3320,3720,4180,4600,5020,5420,1050,3500,4900,2200];
const femaleOutF = [.152,.183,.158,.111,-.111,-.112,-.106,-.122,-.122,-.174,-.282,-.356,-.147,.108,.104,.106,.103,-.118,-.115,.112,-.095,.098,-.098,.101,-.093,.097,-.101,.099,-.096,.094,-.099,.097,.092,-.092,.091,-.090];

function pairs(a, b) {
  const n = Math.min(a.length, b.length), r = [];
  for (let i = 0; i < n; i++) r.push([a[i], b[i]]);
  return r;
}
const maleData = pairs(maleIdx, maleF).concat(pairs(maleSparseIdx, maleSparseF), pairs(maleOutIdx, maleOutF));
const femaleData = pairs(femaleIdx, femaleF).concat(pairs(femaleIdxB, femaleFB), pairs(femaleIdxC, femaleFC),
  pairs(femaleSparseIdx, femaleSparseF), pairs(femaleOutIdx, femaleOutF));
const labelData = pairs(thresholdLabelIdx, thresholds);

const chart = echarts.init(document.getElementById('c'), null, {renderer: 'canvas'});
chart.setOption({
  animation: false,
  backgroundColor: '#fff',
  grid: {left: 110, width: 610, top: 6, bottom: 107, outerBoundsMode: 'none', containLabel: false,
    show: true, borderColor: '#000', borderWidth: 1, backgroundColor: 'transparent'},
  xAxis: {
    type: 'value', min: -296, max: 7717,
    splitLine: {show: false}, axisLine: {show: false, onZero: false},
    axisTick: {show: true, inside: false, length: 12, customValues: xTicks, lineStyle: {color: '#000', width: 1}},
    axisLabel: {customValues: xTicks, margin: 29, color: '#000', fontSize: 20.5, fontFamily: FONT,
      formatter: v => String(v)},
    name: 'Index', nameLocation: 'middle', nameGap: 82,
    nameTextStyle: {color: '#000', fontSize: 20.5, fontFamily: FONT}
  },
  yAxis: {
    type: 'value', min: -0.4107, max: 1.0556,
    splitLine: {show: false}, axisLine: {show: false, onZero: false},
    axisTick: {show: true, inside: false, length: 12, customValues: yTicks, lineStyle: {color: '#000', width: 1}},
    axisLabel: {customValues: yTicks, rotate: 90, margin: 22, color: '#000', fontSize: 20.5, fontFamily: FONT,
      formatter: v => Number(v).toFixed(1)},
    name: 'F Coefficient (X chromosome)', nameLocation: 'middle', nameRotate: 90, nameGap: 74,
    nameTextStyle: {color: '#000', fontSize: 20.5, fontFamily: FONT}
  },
  legend: {
    orient: 'vertical', left: 497, top: 482,
    borderColor: '#000', borderWidth: 1, padding: [6, 7, 9, 17],
    itemWidth: 7, itemHeight: 7, itemGap: 1.3,
    textStyle: {color: '#000', fontSize: 12.7, fontFamily: FONT, lineHeight: 15, padding: [0, 0, 0, 4]},
    data: [
      {name: legendNames[0], icon: 'circle', itemStyle: {color: '#000'}},
      {name: legendNames[1], icon: 'triangle', itemStyle: {color: '#ff0000'}}
    ],
    selectedMode: false
  },
  series: [
    {
      name: 'thresholds', type: 'scatter', data: labelData, symbolSize: 0, silent: true, z: 3,
      label: {show: true, position: 'inside', formatter: p => thresholdLabels[p.dataIndex],
        color: '#b0b0b0', fontSize: 21, fontFamily: FONT},
      markLine: {silent: true, symbol: 'none', animation: false,
        lineStyle: {color: '#bebebe', type: [9, 6], width: 1.5},
        label: {show: false}, data: thresholds.map(v => ({yAxis: v}))}
    },
    {name: legendNames[0], type: 'scatter', data: maleData, symbol: 'circle', symbolSize: 3.3,
      itemStyle: {color: '#000'}, silent: true, z: 2},
    {name: legendNames[1], type: 'scatter', data: femaleData, symbol: 'triangle', symbolSize: 4,
      itemStyle: {color: '#ff0000'}, silent: true, z: 2}
  ]
});
</script></body></html>
